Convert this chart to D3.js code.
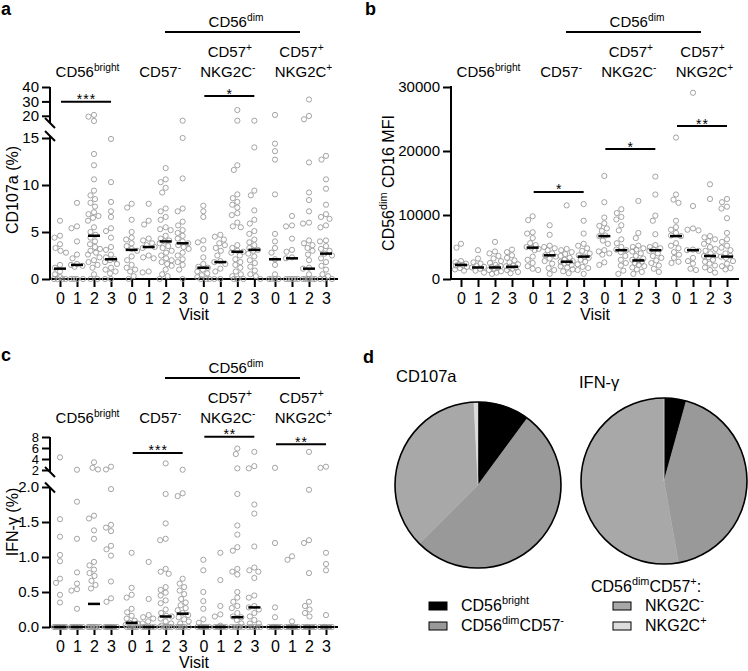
<!DOCTYPE html>
<html><head><meta charset="utf-8">
<script src="https://cdn.jsdelivr.net/npm/d3@7"></script>
<style>
body{margin:0;background:#fff}
svg{display:block}
text{font-family:"Liberation Sans", Arial, Helvetica, sans-serif;fill:#000}
</style>
</head><body>
<svg id="chart" width="748" height="671"></svg>
<script>
// ---------- categories ----------
const visits = ["0","1","2","3"];
const subsets = ["CD56bright","CD57-","NKG2C-","NKG2C+"];

// ---------- panel a : CD107a (%) ----------
const aBright = [
 [6.2,4.6,4.4,3.7,3.3,3.0,2.8,1.5,1.2,0.8,0.5,0.2,0,0,0,0],
 [8.1,5.6,5.4,4.0,2.6,2.2,1.6,1.5,1.4,1.3,0,0,0,0],
 [20.6,19.4,16.4,13.3,12.1,10.6,9.4,8.9,8.5,8.1,7.7,7.1,6.9,6.7,6.5,6.2,5.5,5.0,4.7,4.4,4.0,3.7,3.4,3.2,3.0,2.8,2.6,2.3,2.0,1.8,1.5,1.2,0.5,0,0],
 [14.9,10.3,8.2,7.2,6.6,5.4,5.1,4.4,3.4,3.1,2.6,2.3,2.1,2.0,1.8,1.6,1.2,1.0,0.8,0.6,0,0]
];
const aCD57neg = [
 [8.0,7.6,6.3,5.0,4.4,4.2,3.8,3.5,3.2,3.0,2.4,2.0,1.5,1.2,1.0,0.8,0.3,0],
 [8.0,6.2,5.8,4.3,4.1,3.8,3.6,3.4,3.3,2.5,2.3,2.2,0.8,0.7],
 [11.8,10.6,10.3,9.7,9.2,7.5,7.2,6.6,6.3,5.5,5.3,5.2,4.6,4.3,4.1,4.0,3.8,3.5,3.3,3.0,2.8,2.5,2.2,2.0,1.8,1.6,1.4,1.0,0.5,0.3,0],
 [16.6,15.0,10.7,7.5,7.2,6.1,5.7,5.2,4.9,4.6,4.3,4.0,3.8,3.6,3.4,3.2,2.8,2.5,2.1,1.8,1.5,1.0,0]
];
const aNKGneg = [
 [7.8,7.2,6.6,4.1,3.9,3.2,2.3,1.6,1.3,1.2,1.0,0.8,0.6,0.4,0.2,0,0,0],
 [4.7,4.5,4.2,3.8,3.6,3.3,3.0,2.5,1.9,1.8,1.6,1.1,0.8,0,0],
 [24,16.6,12.1,11.6,9.0,8.6,8.2,7.9,7.6,7.0,6.8,6.0,5.6,5.5,3.6,3.3,3.0,2.9,2.8,2.5,2.1,1.8,1.5,1.2,0.8,0.5,0.3,0,0,0],
 [16.6,14.0,9.4,8.9,7.3,6.3,5.9,5.1,4.8,4.2,3.9,3.6,3.3,3.1,3.0,2.7,2.4,2.0,1.7,1.3,0.9,0.5,0.3,0]
];
const aNKGpos = [
 [20.6,14.4,13.6,12.7,9.0,4.8,4.0,3.3,2.8,2.1,1.5,0.5,0,0,0,0],
 [6.7,5.7,5.6,4.3,3.1,2.9,2.3,2.2,0,0,0,0,0],
 [31.3,19.9,17.6,12.4,9.2,8.4,7.2,6.0,5.9,4.1,3.8,3.6,3.3,3.0,2.6,2.0,1.2,1.1,0.5,0,0,0,0,0,0],
 [13.1,12.7,10.6,9.6,7.9,6.9,6.6,6.4,5.7,5.5,4.1,4.0,3.5,3.2,3.0,2.7,2.5,2.2,1.8,1.4,1.0,0.5,0.3,0,0,0]
];
const aMedians = [[1.1,1.5,4.6,2.1],[3.1,3.4,4.0,3.8],[1.2,1.8,2.9,3.1],[2.1,2.2,1.1,2.7]];
const aLowerTicks = [0,5,10,15];
const aUpperTicks = [20,30,40];
const aSig = [["CD56bright",29.8,"***"],["NKG2C-",33.7,"*"]];

// ---------- panel b : CD56dim CD16 MFI ----------
const bBright = [
 [5500,4900,2800,2600,2400,2300,2200,2100,1900,1700,1500,1300],
 [4500,3200,2600,2400,2100,1900,1800,1600,1300,1000],
 [5800,4300,4000,3600,3200,2800,2500,2200,2000,1900,1800,1600,1400,1200,1000,800],
 [4600,4200,3700,3300,2900,2600,2300,2100,2000,1900,1800,1600,1400,1100,900]
];
const bCD57neg = [
 [9800,9200,7300,7100,6400,5600,5300,5000,4900,4700,4500,3500,3000,2500,2000,1600,1400],
 [8400,6900,5200,5000,4800,4500,4000,3700,3500,3200,2800,2400,1700,1400,800],
 [11500,4700,4500,4200,3900,3600,3300,3000,2800,2700,2600,2400,2200,2000,1800,1500,1200,900],
 [11700,9100,7100,5500,5200,4800,4400,4000,3700,3500,3300,3000,2700,2300,1900,1700,1400,800]
];
const bNKGneg = [
 [16100,12000,9600,8700,8300,7900,7500,6800,6700,6000,5500,4500,4300,4000,3800,2600,2200],
 [10900,10300,9700,9300,8400,7600,6200,5600,5000,4600,4500,4200,3600,3000,2500,2100,1300,800],
 [12200,7200,6400,5200,5000,4800,4600,4300,4000,3600,3200,3000,2900,2700,2500,2200,2000,1800,1500,1100,800],
 [16000,13200,9900,9100,7000,5300,5000,4800,4600,4400,4000,3600,3300,2900,2500,2100,1600,1100]
];
const bNKGpos = [
 [22100,13200,12400,11900,9100,8100,7700,7200,6800,6700,5600,5200,4800,4200,3800,3300,2700,2500],
 [29100,11400,7900,7700,7600,4600,4500,4400,3300,2800,2400,1600,1400],
 [14800,12500,6700,6500,6200,5900,5500,5000,4700,4400,4000,3700,3600,3400,3000,2700,2400,2100,1800,1400,1000],
 [12500,12000,11300,11000,9500,7200,6200,5800,5200,4900,4500,4000,3600,3500,3300,2800,2400,2000,1700,1500]
];
const bMedians = [[2200,1800,1800,1900],[4900,3700,2700,3500],[6700,4500,2900,4500],[6700,4500,3600,3500]];
const bTicks = [0,10000,20000,30000];
const bSig = [["CD57-",13600,"*"],["NKG2C-",20300,"*"],["NKG2C+",23900,"**"]];

// ---------- panel c : IFN-γ (%) ----------
const cBright = [
 [4.3,1.54,1.29,1.03,0.94,0.69,0.63,0.46,0.35,0,0,0,0,0,0,0,0,0],
 [2.05,1.79,1.26,0.78,0.62,0.54,0.52,0.26,0,0,0,0,0,0,0,0],
 [3.4,2.4,2.1,1.59,1.55,1.38,1.26,0.93,0.88,0.82,0.77,0.73,0.66,0.60,0.55,0,0,0,0,0,0,0,0],
 [2.6,2.1,1.97,1.46,1.42,1.37,1.16,1.11,1.02,0.65,0.41,0.36,0,0,0,0,0,0,0,0]
];
const cCD57neg = [
 [1.06,0.56,0.46,0.42,0.26,0.21,0.16,0.12,0.09,0.06,0.05,0.03,0,0,0,0,0,0],
 [0.93,0.40,0.17,0.14,0.12,0.08,0.05,0,0,0,0,0,0],
 [3.2,1.90,1.48,1.26,1.24,0.83,0.79,0.76,0.57,0.53,0.49,0.45,0.38,0.34,0.25,0.20,0.16,0.15,0.12,0.08,0.05,0.02,0,0,0,0,0,0],
 [2.05,1.91,1.87,0.69,0.62,0.57,0.52,0.47,0.40,0.35,0.31,0.27,0.24,0.20,0.17,0.14,0.11,0.08,0.05,0,0,0,0,0,0]
];
const cNKGneg = [
 [0.96,0.81,0.50,0.37,0.26,0.11,0.06,0,0,0,0,0,0,0],
 [1.06,0.67,0.30,0.18,0.15,0.02,0,0,0,0,0,0],
 [5.9,4.9,2.3,1.90,1.45,1.32,1.14,1.09,0.83,0.79,0.75,0.50,0.42,0.36,0.30,0.27,0.20,0.15,0.14,0.10,0.05,0,0,0,0,0,0],
 [5.3,2.7,2.3,1.75,1.62,1.15,0.85,0.81,0.79,0.70,0.45,0.42,0.30,0.28,0.25,0.20,0.15,0.10,0.05,0.05,0,0,0,0,0]
];
const cNKGpos = [
 [2.4,1.20,0.28,0.14,0,0,0,0,0,0,0],
 [1.01,0.96,0.08,0,0,0,0,0,0,0],
 [5.3,1.96,1.24,1.20,0.77,0.36,0.30,0.25,0.20,0.15,0,0,0,0,0,0],
 [2.6,2.4,1.06,0.90,0.81,0.17,0,0,0,0,0,0]
];
const cMedians = [[0,0,0.33,0],[0.06,0,0.15,0.19],[0,0,0.14,0.28],[0,0,0,0]];
const cLowerTicks = [0,0.5,1.0,1.5,2.0];
const cUpperTicks = [2,4,6,8];
const cSig = [["CD57-",5.1,"***"],["NKG2C-",8.05,"**"],["NKG2C+",6.7,"**"]];

// ---------- panel d : pies ----------
const pieSubsets = ["CD56bright","CD56dimCD57-","NKG2C-","NKG2C+"];
const pieCD107a = [10.1, 52.4, 36.7, 0.8];
const pieIFNg = [4.3, 42.9, 52.8, 0.0];
const pieColors = ["#000000","#999999","#a8a8a8","#dcdcdc"];

// =====================================================
const svg = d3.select("#chart");

function supText(g, x, y, parts, size, anchor, extra) {
  const t = g.append("text").attr("x", x).attr("y", y)
    .attr("font-size", size).attr("text-anchor", anchor || "middle");
  if (extra) extra(t);
  let shift = 0;
  parts.forEach(([s, sup]) => {
    const target = sup ? -size * 0.42 : 0;
    t.append("tspan").attr("dy", target - shift)
      .attr("font-size", sup ? size * 0.68 : size).text(s);
    shift = target;
  });
  return t;
}

function swarm(ys, r) {
  const order = d3.range(ys.length).sort((a, b) => ys[a] - ys[b]);
  const placed = [], dx = new Array(ys.length), D = 2 * r + 0.4;
  for (const i of order) {
    let best = 0, bestScore = -Infinity;
    for (let k = 0; k <= 24; k++) {
      const off = (k % 2 === 1 ? -1 : 1) * Math.ceil(k / 2) * 0.5;
      let md = Infinity;
      for (const p of placed) {
        const d = Math.hypot(p[0] - off, p[1] - ys[i]);
        if (d < md) md = d;
      }
      if (md >= D) { best = off; break; }
      if (md > bestScore + 0.01) { bestScore = md; best = off; }
    }
    dx[i] = best; placed.push([best, ys[i]]);
  }
  return dx;
}

function headers(g, ox, oy, center) {
  supText(g, ox + 236, oy + 27, [["CD56",0],["dim",1]], 15);
  g.append("line").attr("x1", ox + 165).attr("x2", ox + 300)
    .attr("y1", oy + 32).attr("y2", oy + 32).attr("stroke", "#000").attr("stroke-width", 2);
  supText(g, center(2) + 1, oy + 57, [["CD57",0],["+",1]], 15);
  supText(g, center(3) + 1, oy + 57, [["CD57",0],["+",1]], 15);
  supText(g, center(0) + 2, oy + 77, [["CD56",0],["bright",1]], 15);
  supText(g, center(1) + 3, oy + 77, [["CD57",0],["-",1]], 15);
  supText(g, center(2) - 1, oy + 77, [["NKG2C",0],["-",1]], 15);
  supText(g, center(3) + 3, oy + 77, [["NKG2C",0],["+",1]], 15);
}

function dotPanel(o) {
  const g = svg.append("g");
  const axX = o.ox + 50, baseY = o.lower.range()[0];
  const gScale = d3.scalePoint().domain(subsets).range([o.ox + 60, o.ox + 275]);
  const vScale = d3.scalePoint().domain(visits).range([0, 51]);
  const pos = (s, v) => gScale(s) + vScale(v);
  const keys = subsets.flatMap(s => visits.map(v => s + "|" + v));
  const xOrd = d3.scaleOrdinal().domain(keys).range(keys.map(k => pos(...k.split("|"))));
  const yv = v => (o.upper && v > o.thr) ? o.upper(v) : o.lower(v);
  const center = i => gScale(subsets[i]) + 25.5;

  headers(g, o.ox, o.oy, center);

  // axes
  const xa = g.append("g").attr("transform", `translate(0,${baseY})`)
    .call(d3.axisBottom(xOrd).tickSize(8).tickPadding(5.5).tickFormat(k => k.split("|")[1]));
  xa.select(".domain").remove();
  xa.selectAll("line").attr("stroke-width", 2);
  xa.selectAll("text").attr("font-size", 16).attr("font-family", null);

  const ya = g.append("g").attr("transform", `translate(${axX},0)`)
    .call(d3.axisLeft(o.lower).tickValues(o.lowerTicks).tickSize(8).tickPadding(3).tickFormat(o.fmt));
  ya.select(".domain").remove();
  ya.selectAll("line").attr("stroke-width", 2);
  ya.selectAll("text").attr("font-size", 15).attr("font-family", null);
  if (o.upper) {
    const yu = g.append("g").attr("transform", `translate(${axX},0)`)
      .call(d3.axisLeft(o.upper).tickValues(o.upperTicks).tickSize(8).tickPadding(3).tickFormat(d3.format("d")));
    yu.select(".domain").remove();
    yu.selectAll("line").attr("stroke-width", 2);
    yu.selectAll("text").attr("font-size", o.upperFont || 15).attr("font-family", null);
  }
  const ax = g.append("g").attr("stroke", "#000").attr("stroke-width", 2).attr("fill", "none");
  ax.append("path").attr("d", `M${axX},${o.lowerTop}V${baseY}H${o.ox + 338}`);
  if (o.upper) {
    ax.append("path").attr("d", `M${axX},${o.upper.range()[1]}V${o.breakA}`);
    [o.breakA, o.lowerTop].forEach(y =>
      ax.append("line").attr("x1", axX - 5).attr("x2", axX + 5).attr("y1", y - 5).attr("y2", y + 5));
  }

  // points
  const pts = g.append("g").attr("fill", "none").attr("stroke", "#9a9a9a").attr("stroke-width", 0.9);
  o.data.forEach((cells, gi) => cells.forEach((vals, vi) => {
    const ys = vals.map(yv);
    const dx = swarm(ys, 2.6);
    const cx = pos(subsets[gi], visits[vi]);
    pts.selectAll(null).data(vals).join("circle")
      .attr("cx", (d, i) => cx + dx[i]).attr("cy", (d, i) => ys[i]).attr("r", 2.6);
  }));
  // medians
  o.medians.forEach((ms, gi) => ms.forEach((m, vi) => {
    const cx = pos(subsets[gi], visits[vi]);
    g.append("line").attr("x1", cx - 6).attr("x2", cx + 6)
      .attr("y1", yv(m)).attr("y2", yv(m)).attr("stroke", "#000").attr("stroke-width", 2.5);
  }));
  // significance
  o.sig.forEach(([s, v, lab]) => {
    const y = yv(v);
    g.append("line").attr("x1", pos(s, "0") + 1).attr("x2", pos(s, "3"))
      .attr("y1", y).attr("y2", y).attr("stroke", "#000").attr("stroke-width", 2);
    g.append("text").attr("x", (pos(s, "0") + pos(s, "3")) / 2 + 1).attr("y", y + 2.5)
      .attr("text-anchor", "middle").attr("font-size", 14).attr("letter-spacing", 1).text(lab);
  });

  // labels
  g.append("text").attr("x", o.ox + 194).attr("y", baseY + 41).attr("text-anchor", "middle")
    .attr("font-size", 16).text("Visit");
  supText(g, 0, 0, o.ylabel, 16, "middle",
    t => t.attr("transform", `translate(${o.ylx},${o.yly}) rotate(-90)`));
  g.append("text").attr("x", o.lx).attr("y", o.oy + 15).attr("font-size", 18)
    .attr("font-weight", "bold").text(o.letter);
}

// panel a
dotPanel({
  ox: 0, oy: 0, letter: "a", lx: 1,
  data: [aBright, aCD57neg, aNKGneg, aNKGpos], medians: aMedians,
  lower: d3.scaleLinear().domain([0, 15]).range([279, 138]),
  upper: d3.scaleLinear().domain([15, 40]).range([123, 87]), thr: 15.2,
  lowerTop: 136, breakA: 123,
  lowerTicks: aLowerTicks, upperTicks: aUpperTicks, fmt: d3.format("d"),
  sig: aSig, ylabel: [["CD107a (%)",0]], ylx: 18, yly: 190
});
// panel b
dotPanel({
  ox: 401, oy: 0, letter: "b", lx: 365,
  data: [bBright, bCD57neg, bNKGneg, bNKGpos], medians: bMedians,
  lower: d3.scaleLinear().domain([0, 30000]).range([279, 87]),
  lowerTop: 86, lowerTicks: bTicks, fmt: d3.format("d"),
  sig: bSig, ylabel: [["CD56",0],["dim",1],[" CD16 MFI",0]], ylx: 394, yly: 183
});
// panel c
dotPanel({
  ox: 0, oy: 346, letter: "c", lx: 1,
  data: [cBright, cCD57neg, cNKGneg, cNKGpos], medians: cMedians,
  lower: d3.scaleLinear().domain([0, 2]).range([627, 487]),
  upper: d3.scaleLinear().domain([2, 8]).range([470, 437]), thr: 2.0, upperFont: 13,
  lowerTop: 487.5, breakA: 472,
  lowerTicks: cLowerTicks, upperTicks: cUpperTicks, fmt: d3.format(".1f"),
  sig: cSig, ylabel: [["IFN-γ (%)",0]], ylx: 18, yly: 522
});

// panel d
const gd = svg.append("g");
gd.append("text").attr("x", 363).attr("y", 363).attr("font-size", 18).attr("font-weight", "bold").text("d");
const pie = d3.pie().sort(null).value(d => d);
const arc = d3.arc().innerRadius(0).outerRadius(83);
[[pieCD107a, 478, 485, "CD107a", 396, 382], [pieIFNg, 664, 481, "IFN-γ", 579, 388]].forEach(([vals, cx, cy, title, tx, ty]) => {
  const pg = gd.append("g").attr("transform", `translate(${cx},${cy})`);
  pg.selectAll("path").data(pie(vals)).join("path")
    .attr("d", arc).attr("fill", (d, i) => pieColors[i]).attr("stroke", (d, i) => pieColors[i]).attr("stroke-width", 0.4);
  pg.append("circle").attr("r", 83).attr("fill", "none").attr("stroke", "#000").attr("stroke-width", 1.6);
  gd.append("text").attr("x", tx).attr("y", ty).attr("font-size", 16.5).text(title);
});
// legend
supText(gd, 591, 592, [["CD56",0],["dim",1],["CD57",0],["+",1],[":",0]], 16, "start");
const legendItems = [
  [0, 429, 602, [["CD56",0],["bright",1]]],
  [1, 429, 622, [["CD56",0],["dim",1],["CD57",0],["-",1]]],
  [2, 613, 602, [["NKG2C",0],["-",1]]],
  [3, 613, 622, [["NKG2C",0],["+",1]]]
];
legendItems.forEach(([i, x, y, parts]) => {
  gd.append("rect").attr("x", x).attr("y", y).attr("width", 18).attr("height", 8)
    .attr("fill", pieColors[i]).attr("stroke", "#000").attr("stroke-width", 1);
  supText(gd, x + 32, y + 9, parts, 16, "start");
});
</script>
</body></html>
